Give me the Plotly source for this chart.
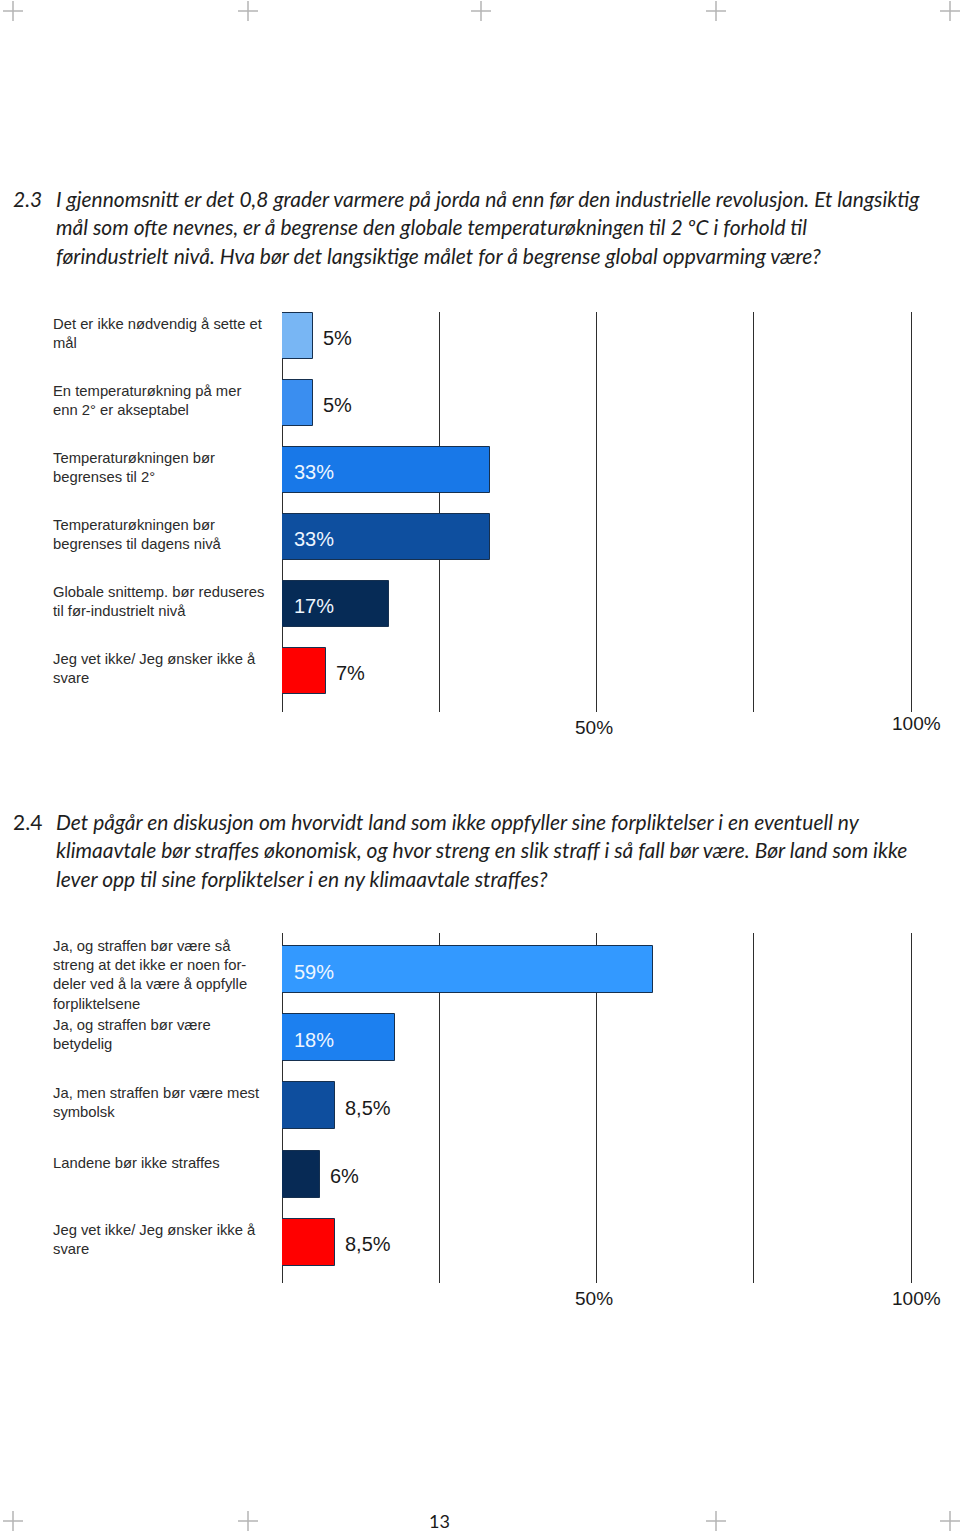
import plotly.graph_objects as go

W, H = 960, 1532

# ---------------- data ----------------
q1_number = "2.3"
q1_lines = [
    "I gjennomsnitt er det 0,8 grader varmere på jorda nå enn før den industrielle revolusjon. Et langsiktig",
    "mål som ofte nevnes, er å begrense den globale temperaturøkningen til 2 ºC i forhold til",
    "førindustrielt nivå. Hva bør det langsiktige målet for å begrense global oppvarming være?",
]
q1_categories = [
    "Det er ikke nødvendig å sette et<br>mål",
    "En temperaturøkning på mer<br>enn 2° er akseptabel",
    "Temperaturøkningen bør<br>begrenses til 2°",
    "Temperaturøkningen bør<br>begrenses til dagens nivå",
    "Globale snittemp. bør reduseres<br>til før-industrielt nivå",
    "Jeg vet ikke/ Jeg ønsker ikke å<br>svare",
]
q1_values = [5, 5, 33, 33, 17, 7]
q1_colors = ["#78b6f4", "#3a8ef0", "#1878e8", "#0e4f9f", "#062b56", "#ff0000"]

q2_number = "2.4"
q2_lines = [
    "Det pågår en diskusjon om hvorvidt land som ikke oppfyller sine forpliktelser i en eventuell ny",
    "klimaavtale bør straffes økonomisk, og hvor streng en slik straff i så fall bør være. Bør land som ikke",
    "lever opp til sine forpliktelser i en ny klimaavtale straffes?",
]
q2_categories = [
    "Ja, og straffen bør være så<br>streng at det ikke er noen for-<br>deler ved å la være å oppfylle<br>forpliktelsene",
    "Ja, og straffen bør være<br>betydelig",
    "Ja, men straffen bør være mest<br>symbolsk",
    "Landene bør ikke straffes",
    "Jeg vet ikke/ Jeg ønsker ikke å<br>svare",
]
q2_values = [59, 18, 8.5, 6, 8.5]
q2_colors = ["#3399ff", "#1c80f0", "#0e4e9e", "#072a55", "#ff0000"]

tick_values = [50, 100]
tick_labels = ["50%", "100%"]
page_number = "13"


def fmt(v):
    s = ("%g" % v).replace(".", ",")
    return s + "%"


# ---------------- helpers ----------------
def px_x(x):
    return x / W


def px_y(y):
    return 1 - y / H


fig = go.Figure()
annotations = []
shapes = []

LABEL_FONT = dict(family="Liberation Sans, Arial, sans-serif", size=14.8, color="#2b2b2b")
VALUE_FONT = "Liberation Sans, Arial, sans-serif"
HEAD_FONT = "Lato, Open Sans, sans-serif"
HEAD_SIZE = 21

charts = [
    dict(num="<i>" + q1_number + "</i>", lines=q1_lines, head_y=198, cats=q1_categories,
         vals=q1_values, cols=q1_colors, top=312, bottom=712, yrange=[5.61, -0.36],
         tick_y=[727, 723], xa="x", ya="y"),
    dict(num=q2_number, lines=q2_lines, head_y=821, cats=q2_categories, vals=q2_values,
         cols=q2_colors, top=933, bottom=1283, yrange=[4.6, -0.54], tick_y=[1298, 1298],
         xa="x2", ya="y2"),
]

X0, X1 = 282, 911
PAD = 0.4  # extra range so the 100% grid line is drawn
X1d = X1 + PAD * (X1 - X0) / 100

for k, c in enumerate(charts):
    idx = list(range(len(c["vals"])))
    fig.add_trace(go.Bar(
        x=c["vals"], y=idx, orientation="h",
        marker=dict(color=c["cols"], line=dict(color="#16304f", width=1)),
        width=0.69, hoverinfo="skip", showlegend=False,
        xaxis=c["xa"], yaxis=c["ya"],
    ))
    axis_suffix = "" if k == 0 else "2"
    fig.update_layout(**{
        "xaxis" + axis_suffix: dict(
            domain=[px_x(X0), px_x(X1d)], range=[0, 100 + PAD], anchor=c["ya"],
            showgrid=True, dtick=25, tick0=0, gridcolor="#2e2e2e", gridwidth=1.2,
            zeroline=True, zerolinecolor="#2e2e2e", zerolinewidth=1.2,
            showticklabels=False, ticks="", showline=False, fixedrange=True,
        ),
        "yaxis" + axis_suffix: dict(
            domain=[px_y(c["bottom"]), px_y(c["top"])], range=c["yrange"], anchor=c["xa"],
            showgrid=False, zeroline=False, showticklabels=False, ticks="",
            showline=False, fixedrange=True,
        ),
    })

    # heading
    annotations.append(dict(
        text=c["num"], xref="paper", yref="paper", x=px_x(11), y=px_y(c["head_y"]),
        xanchor="left", yanchor="middle", showarrow=False,
        font=dict(family=HEAD_FONT, size=HEAD_SIZE, color="#1e1e1e"),
    ))
    for li, line in enumerate(c["lines"]):
        annotations.append(dict(
            text="<i>" + line + "</i>", xref="paper", yref="paper",
            x=px_x(54), y=px_y(c["head_y"] + li * 28.7),
            xanchor="left", yanchor="middle", showarrow=False,
            font=dict(family=HEAD_FONT, size=HEAD_SIZE, color="#1e1e1e"),
        ))

    # category labels
    for i, lab in enumerate(c["cats"]):
        nlines = lab.count("<br>") + 1
        shift = {1: 11, 2: 3}.get(nlines, -5)
        annotations.append(dict(
            text=lab, xref="paper", yref=c["ya"], x=px_x(51), y=i,
            xanchor="left", yanchor="middle", align="left", showarrow=False,
            yshift=shift, font=LABEL_FONT,
        ))

    # value labels
    for i, v in enumerate(c["vals"]):
        inside = v >= 15
        annotations.append(dict(
            text=fmt(v), xref=c["xa"], yref=c["ya"],
            x=0 if inside else v, y=i, xshift=10 if inside else 8, yshift=-2,
            xanchor="left", yanchor="middle", showarrow=False,
            font=dict(family=VALUE_FONT, size=20,
                      color="#eef6ff" if inside else "#1a1a1a"),
        ))

    # tick labels
    for tv, tl, ty in zip(tick_values, tick_labels, c["tick_y"]):
        annotations.append(dict(
            text=tl, xref=c["xa"], yref="paper", x=tv, y=px_y(ty),
            xanchor="center", yanchor="middle", showarrow=False, xshift=-3 if tv == 50 else 5,
            font=dict(family=VALUE_FONT, size=19, color="#1a1a1a"),
        ))

# page number
annotations.append(dict(
    text=page_number, xref="paper", yref="paper", x=px_x(439), y=px_y(1521),
    xanchor="center", yanchor="middle", showarrow=False,
    font=dict(family=HEAD_FONT, size=18, color="#1a1a1a"),
))

# crop marks
for cy, xs in [(11, [13, 248, 481, 716, 950]), (1521, [13, 248, 716, 950])]:
    for cx in xs:
        shapes.append(dict(type="line", xref="paper", yref="paper",
                           x0=px_x(cx - 10), x1=px_x(cx + 10), y0=px_y(cy), y1=px_y(cy),
                           line=dict(color="#b4b4b4", width=1.5)))
        shapes.append(dict(type="line", xref="paper", yref="paper",
                           x0=px_x(cx), x1=px_x(cx), y0=px_y(cy - 10), y1=px_y(cy + 10),
                           line=dict(color="#b4b4b4", width=1.5)))

fig.update_layout(
    width=W, height=H, margin=dict(l=0, r=0, t=0, b=0),
    paper_bgcolor="white", plot_bgcolor="white",
    annotations=annotations, shapes=shapes, bargap=0,
)

fig.write_html(
    "out.html",
    config={"displayModeBar": False},
    post_script="document.body.style.margin='0';document.body.style.overflow='hidden';",
)
